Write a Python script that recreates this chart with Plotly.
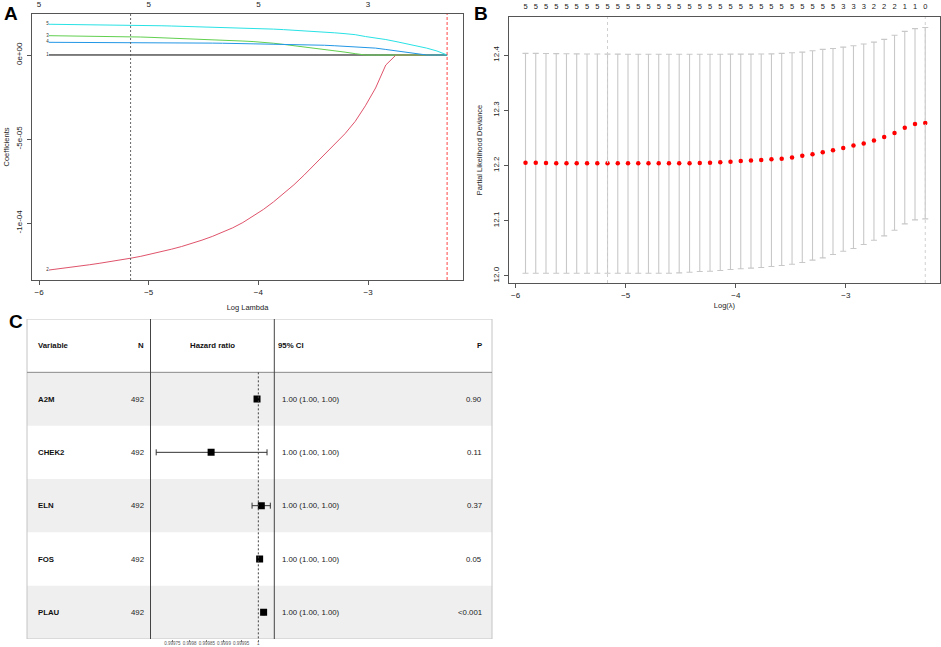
import plotly.graph_objects as go

# ---------------- data ----------------
# Panel A / B shared lambda grid (log lambda)
log_lambda = [-5.910, -5.817, -5.724, -5.631, -5.538, -5.445, -5.351, -5.258, -5.165, -5.072,
              -4.979, -4.886, -4.793, -4.700, -4.607, -4.514, -4.420, -4.327, -4.234, -4.141,
              -4.048, -3.955, -3.862, -3.769, -3.676, -3.583, -3.489, -3.396, -3.303, -3.210,
              -3.117, -3.024, -2.931, -2.838, -2.745, -2.652, -2.558, -2.465, -2.372, -2.279]

coef_1 = [2e-08, 2e-08, 2e-08, 2e-08, 2e-08, 2e-08, 2e-08, 2e-08, 2e-08, 2e-08,
          2e-08, 2e-08, 2e-08, 2e-08, 2e-08, 2e-08, 2e-08, 2e-08, 2e-08, 2e-08,
          2e-08, 2e-08, 2e-08, 2e-08, 2e-08, 2e-08, 2e-08, 2e-08, 2e-08, 2e-08,
          1e-08, 0.0, 0.0, 0.0, 0.0, 0.0, 0.0, 0.0, 0.0, 0.0]
coef_2 = [-1.2797e-04, -1.2725e-04, -1.2648e-04, -1.2565e-04, -1.2481e-04, -1.2392e-04,
          -1.2303e-04, -1.2202e-04, -1.2094e-04, -1.1981e-04, -1.1851e-04, -1.1714e-04,
          -1.1559e-04, -1.1398e-04, -1.1214e-04, -1.1017e-04, -1.0797e-04, -1.0553e-04,
          -1.0285e-04, -9.970e-05, -9.607e-05, -9.196e-05, -8.743e-05, -8.255e-05,
          -7.726e-05, -7.148e-05, -6.541e-05, -5.946e-05, -5.339e-05, -4.684e-05,
          -3.952e-05, -3.024e-05, -1.964e-05, -5.95e-06, 0.0, 0.0, 0.0, 0.0, 0.0, 0.0]
coef_3 = [1.150e-05, 1.145e-05, 1.140e-05, 1.130e-05, 1.125e-05, 1.120e-05, 1.110e-05, 1.100e-05,
          1.090e-05, 1.070e-05, 1.050e-05, 1.030e-05, 1.010e-05, 9.90e-06, 9.60e-06, 9.40e-06,
          9.20e-06, 9.00e-06, 8.70e-06, 8.30e-06, 8.00e-06, 7.60e-06, 7.00e-06, 6.30e-06,
          5.60e-06, 4.90e-06, 4.10e-06, 3.40e-06, 2.60e-06, 1.70e-06, 8.0e-07,
          0.0, 0.0, 0.0, 0.0, 0.0, 0.0, 0.0, 0.0, 0.0]
coef_4 = [7.56e-06, 7.55e-06, 7.54e-06, 7.53e-06, 7.52e-06, 7.50e-06, 7.48e-06, 7.46e-06,
          7.44e-06, 7.41e-06, 7.38e-06, 7.34e-06, 7.30e-06, 7.25e-06, 7.20e-06, 7.14e-06,
          7.07e-06, 7.00e-06, 6.92e-06, 6.84e-06, 6.75e-06, 6.66e-06, 6.57e-06, 6.47e-06,
          6.35e-06, 6.20e-06, 6.05e-06, 5.80e-06, 5.50e-06, 5.20e-06, 4.85e-06, 4.50e-06,
          4.10e-06, 3.30e-06, 2.50e-06, 1.60e-06, 6.0e-07, 0.0, 0.0, 0.0]
coef_5 = [1.830e-05, 1.825e-05, 1.820e-05, 1.815e-05, 1.810e-05, 1.800e-05, 1.790e-05, 1.780e-05,
          1.770e-05, 1.760e-05, 1.750e-05, 1.740e-05, 1.725e-05, 1.710e-05, 1.695e-05, 1.680e-05,
          1.665e-05, 1.650e-05, 1.630e-05, 1.610e-05, 1.590e-05, 1.565e-05, 1.540e-05, 1.510e-05,
          1.480e-05, 1.450e-05, 1.410e-05, 1.370e-05, 1.320e-05, 1.270e-05, 1.210e-05, 1.100e-05,
          1.020e-05, 9.20e-06, 8.00e-06, 6.80e-06, 5.50e-06, 4.10e-06, 2.40e-06, 0.0]
coef_labels = ["1", "2", "3", "4", "5"]
coef_colors = ["#000000", "#DF536B", "#61D04F", "#2297E6", "#28E2E5"]

top_a_vals = [-6, -5, -4, -3]
top_a_labels = ["5", "5", "5", "3"]
lambda_min = -5.165
lambda_1se = -2.279

# Panel B: CV partial likelihood deviance
cv_mean = [12.205, 12.205, 12.2045, 12.204, 12.204, 12.204, 12.204, 12.204, 12.204, 12.204,
           12.204, 12.204, 12.204, 12.204, 12.204, 12.204, 12.204, 12.2045, 12.205, 12.2057,
           12.2067, 12.208, 12.209, 12.210, 12.2112, 12.212, 12.2145, 12.2175, 12.2205, 12.224,
           12.2275, 12.2315, 12.236, 12.240, 12.245, 12.2515, 12.259, 12.2685, 12.275, 12.277]
cv_upper = [12.403, 12.403, 12.4028, 12.4026, 12.4024, 12.4022, 12.402, 12.402, 12.4018, 12.4018,
            12.4016, 12.4016, 12.4016, 12.4016, 12.4016, 12.4016, 12.4016, 12.4016, 12.4016, 12.4016,
            12.4017, 12.4017, 12.4018, 12.4019, 12.4022, 12.403, 12.4042, 12.4054, 12.4078, 12.4103,
            12.412, 12.4145, 12.4169, 12.420, 12.4235, 12.4284, 12.436, 12.443, 12.448, 12.450]
cv_lower = [12.0048, 12.0048, 12.0048, 12.0048, 12.0048, 12.0048, 12.0048, 12.0048, 12.0048, 12.0048,
            12.0048, 12.0048, 12.0048, 12.0048, 12.0048, 12.0054, 12.0066, 12.0078, 12.0084, 12.0097,
            12.0115, 12.0127, 12.0139, 12.0151, 12.0169, 12.0187, 12.0211, 12.0241, 12.0284, 12.0326,
            12.0386, 12.0446, 12.0495, 12.0567, 12.0646, 12.0724, 12.0827, 12.0941, 12.1014, 12.1032]
n_nonzero = ["5", "5", "5", "5", "5", "5", "5", "5", "5", "5", "5", "5", "5", "5", "5", "5",
             "5", "5", "5", "5", "5", "5", "5", "5", "5", "5", "5", "5", "5", "5", "5",
             "3", "3", "3", "2", "2", "2", "1", "1", "0"]

# Panel C: forest table
genes = ["A2M", "CHEK2", "ELN", "FOS", "PLAU"]
n_obs = ["492", "492", "492", "492", "492"]
hr = [0.9999962, 0.9998625, 1.0000087, 1.0000038, 1.0000154]
hr_low = [0.9999940, 0.9997026, 0.9999817, 1.0000020, 1.0000135]
hr_high = [0.9999985, 1.0000253, 1.0000349, 1.0000056, 1.0000172]
ci_text = ["1.00 (1.00, 1.00)", "1.00 (1.00, 1.00)", "1.00 (1.00, 1.00)",
           "1.00 (1.00, 1.00)", "1.00 (1.00, 1.00)"]
p_text = ["0.90", "0.11", "0.37", "0.05", "<0.001"]
hr_tick_vals = [0.99975, 0.99980, 0.99985, 0.99990, 0.99995, 1.0]
hr_tick_text = ["0.99975", "0.9998", "0.99985", "0.9999", "0.99995", "1"]

# ---------------- figure ----------------
W, H = 941, 647
FONT = "Liberation Sans, Arial, Helvetica, sans-serif"
AX = "#555555"


def px(x):
    return x / W


def py(y):
    return 1 - y / H


fig = go.Figure()

# Panel A coefficient paths
coefs = [coef_1, coef_2, coef_3, coef_4, coef_5]
for lab, col, c in zip(coef_labels, coef_colors, coefs):
    fig.add_trace(go.Scatter(x=log_lambda, y=c, mode="lines", line=dict(color=col, width=1),
                             xaxis="x2", yaxis="y", hoverinfo="skip", showlegend=False))
    fig.add_trace(go.Scatter(x=[log_lambda[0]], y=[c[0]], mode="text", text=[lab],
                             textposition="middle left",
                             textfont=dict(family=FONT, size=4.5, color="#333"),
                             xaxis="x", yaxis="y", hoverinfo="skip", showlegend=False))

# Panel B error bars and points
fig.add_trace(go.Scatter(
    x=log_lambda, y=cv_mean, mode="markers",
    marker=dict(size=1, color="rgba(0,0,0,0)"),
    error_y=dict(type="data", symmetric=False,
                 array=[u - m for u, m in zip(cv_upper, cv_mean)],
                 arrayminus=[m - l for m, l in zip(cv_mean, cv_lower)],
                 color="#c8c8c8", thickness=1.1, width=3),
    xaxis="x3", yaxis="y3", hoverinfo="skip", showlegend=False))
fig.add_trace(go.Scatter(x=log_lambda, y=cv_mean, mode="markers",
                         marker=dict(size=4.5, color="#ff0000"),
                         xaxis="x4", yaxis="y3", hoverinfo="skip", showlegend=False))

# Panel C forest
rows = [i + 1 for i in range(len(genes))]
fig.add_trace(go.Scatter(
    x=hr, y=rows, mode="markers",
    marker=dict(symbol="square", size=7, color="black"),
    error_x=dict(type="data", symmetric=False,
                 array=[h - m for h, m in zip(hr_high, hr)],
                 arrayminus=[m - l for m, l in zip(hr, hr_low)],
                 color="#333", thickness=1, width=3),
    xaxis="x5", yaxis="y5", hoverinfo="skip", showlegend=False))

tickfont = dict(family=FONT, size=8, color="#222")
titlefont = dict(family=FONT, size=7.5, color="#222")
box = dict(showline=True, mirror=True, linecolor=AX, linewidth=1, ticks="outside", ticklen=4,
           tickcolor=AX, showgrid=False, zeroline=False, tickfont=tickfont, automargin=False)

shapes = [
    # Panel A lambda lines
    dict(type="line", xref="x", yref="y domain", x0=lambda_min, x1=lambda_min, y0=0, y1=1,
         line=dict(color="#555", width=0.9, dash="2px,2px")),
    dict(type="line", xref="x", yref="y domain", x0=lambda_1se, x1=lambda_1se, y0=0, y1=1,
         line=dict(color="#ff3030", width=0.9, dash="3px,2px")),
    # Panel B lambda lines
    dict(type="line", xref="x3", yref="y3 domain", x0=lambda_min, x1=lambda_min, y0=0, y1=1,
         line=dict(color="#d0d0d0", width=1, dash="dot")),
    dict(type="line", xref="x3", yref="y3 domain", x0=lambda_1se, x1=lambda_1se, y0=0, y1=1,
         line=dict(color="#d0d0d0", width=1, dash="dot")),
]
# table row backgrounds
for r in rows:
    if r % 2 == 1:
        shapes.append(dict(type="rect", xref="paper", yref="y5", x0=px(27), x1=px(492),
                           y0=r - 0.5, y1=r + 0.5, fillcolor="#efefef",
                           line=dict(width=0), layer="below"))
shapes += [
    dict(type="rect", xref="paper", yref="y5", x0=px(27), x1=px(492), y0=-0.5, y1=5.5,
         line=dict(color="#c4c4c4", width=1)),
    dict(type="line", xref="paper", yref="y5", x0=px(27), x1=px(492), y0=0.5, y1=0.5,
         line=dict(color="#8a8a8a", width=1)),
    dict(type="line", xref="x5 domain", yref="y5", x0=0, x1=0, y0=-0.5, y1=5.5,
         line=dict(color="#444", width=1)),
    dict(type="line", xref="x5 domain", yref="y5", x0=1, x1=1, y0=-0.5, y1=5.5,
         line=dict(color="#444", width=1)),
    dict(type="line", xref="x5", yref="y5", x0=1.0, x1=1.0, y0=0.5, y1=5.63,
         line=dict(color="#444", width=1, dash="2px,2px")),
]

tfont_b = dict(family=FONT, size=7.8, color="#111")
tfont = dict(family=FONT, size=7.8, color="#222")
ann = [
    dict(text="<b>A</b>", x=px(2), y=py(13.5), xref="paper", yref="paper", xanchor="left",
         yanchor="middle", showarrow=False, font=dict(family=FONT, size=19, color="black")),
    dict(text="<b>B</b>", x=px(472), y=py(13.5), xref="paper", yref="paper", xanchor="left",
         yanchor="middle", showarrow=False, font=dict(family=FONT, size=19, color="black")),
    dict(text="<b>C</b>", x=px(7), y=py(321.5), xref="paper", yref="paper", xanchor="left",
         yanchor="middle", showarrow=False, font=dict(family=FONT, size=19, color="black")),
    dict(text="<b>Variable</b>", x=px(36), y=0, xref="paper", yref="y5", xanchor="left",
         showarrow=False, font=tfont_b),
    dict(text="<b>N</b>", x=px(146), y=0, xref="paper", yref="y5", xanchor="right",
         showarrow=False, font=tfont_b),
    dict(text="<b>Hazard ratio</b>", x=px(212.5), y=0, xref="paper", yref="y5", xanchor="center",
         showarrow=False, font=tfont_b),
    dict(text="<b>95% CI</b>", x=px(275.5), y=0, xref="paper", yref="y5", xanchor="left",
         showarrow=False, font=tfont_b),
    dict(text="<b>P</b>", x=px(484), y=0, xref="paper", yref="y5", xanchor="right",
         showarrow=False, font=tfont_b),
]
for r, g, n, ci, p in zip(rows, genes, n_obs, ci_text, p_text):
    ann += [
        dict(text="<b>%s</b>" % g, x=px(36), y=r, xref="paper", yref="y5", xanchor="left",
             showarrow=False, font=tfont_b),
        dict(text=n, x=px(146), y=r, xref="paper", yref="y5", xanchor="right",
             showarrow=False, font=tfont),
        dict(text=ci, x=px(279.5), y=r, xref="paper", yref="y5", xanchor="left",
             showarrow=False, font=tfont),
        dict(text=p, x=px(484), y=r, xref="paper", yref="y5", xanchor="right",
             showarrow=False, font=tfont),
    ]

fig.update_layout(
    width=W, height=H, margin=dict(l=0, r=0, t=0, b=0),
    paper_bgcolor="white", plot_bgcolor="rgba(0,0,0,0)",
    font=dict(family=FONT, color="#222"), showlegend=False,
    xaxis=dict(domain=[px(32), px(463)], range=[-6.064, -2.134], anchor="y",
               tickvals=[-6, -5, -4, -3],
               title=dict(text="Log Lambda", font=titlefont, standoff=9), **box),
    xaxis2=dict(overlaying="x", matches="x", side="top", anchor="y", tickvals=top_a_vals,
                ticktext=top_a_labels, ticks="", showline=False, showgrid=False, zeroline=False,
                tickfont=tickfont, ticklabelstandoff=4, automargin=False),
    yaxis=dict(domain=[py(280), py(14)], range=[-1.339e-4, 2.44e-5], anchor="x",
               tickvals=[0, -5e-5, -1e-4], ticktext=["0e+00", "-5e-05", "-1e-04"],
               tickangle=-90, ticklabelstandoff=2,
               title=dict(text="Coefficients", font=titlefont, standoff=4), **box),
    xaxis3=dict(domain=[px(509), px(940)], range=[-6.06, -2.145], anchor="y3",
                tickvals=[-6, -5, -4, -3],
                title=dict(text="Log(λ)", font=titlefont, standoff=4), **box),
    xaxis4=dict(overlaying="x3", matches="x3", side="top", anchor="y3", tickvals=log_lambda,
                ticktext=n_nonzero, ticks="", showline=False, showgrid=False, zeroline=False,
                tickfont=dict(family=FONT, size=7.5, color="#222"), ticklabelstandoff=6,
                automargin=False),
    yaxis3=dict(domain=[py(283), py(17)], range=[11.987, 12.469], anchor="x3",
                tickvals=[12.0, 12.1, 12.2, 12.3, 12.4],
                ticktext=["12.0", "12.1", "12.2", "12.3", "12.4"], tickangle=-90,
                ticklabelstandoff=2,
                title=dict(text="Partial Likelihood Deviance", font=titlefont, standoff=8), **box),
    xaxis5=dict(domain=[px(150.5), px(274.3)], range=[0.999686, 1.0000465], anchor="y5",
                tickvals=hr_tick_vals, ticktext=hr_tick_text, ticks="outside", ticklen=2,
                tickcolor="#777", showline=False, showgrid=False, zeroline=False,
                tickangle=0, ticklabelstandoff=-2,
                tickfont=dict(family=FONT, size=4.5, color="#555"), automargin=False),
    yaxis5=dict(domain=[py(639), py(319)], range=[5.5, -0.5], anchor="x5", visible=False),
    shapes=shapes, annotations=ann,
)

# the page is photographed from its top-left corner: drop the browser's default body margin
fig.write_html("out.html", config={"displayModeBar": False},
               post_script="document.body.style.margin='0';document.body.style.overflow='hidden';")
